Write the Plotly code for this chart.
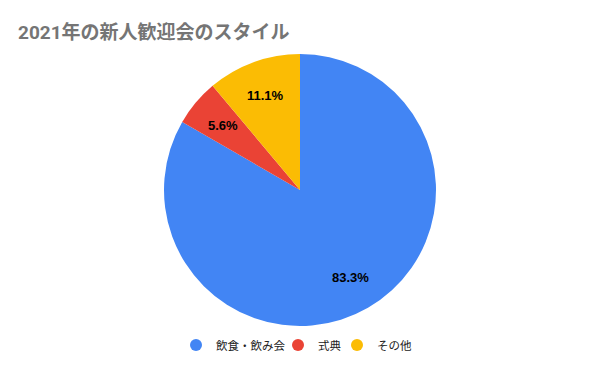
import math
import plotly.graph_objects as go

categories = ["飲食・飲み会", "式典", "その他"]
values = [15, 1, 2]
colors = ["#4285F4", "#EA4335", "#FBBC04"]

W, H = 600, 371
CX, CY, R = 300, 190, 136
LEGEND_X = [196, 298, 357]   # symbol centres, px
LEGEND_Y = 345

fig = go.Figure()
fig.add_trace(go.Pie(
    labels=categories, values=values, sort=False, direction="clockwise", rotation=0,
    marker=dict(colors=colors, line=dict(width=0)),
    textinfo="none",
    showlegend=False, hoverinfo="label+percent",
    domain=dict(x=[(CX-R)/W, (CX+R)/W], y=[1-(CY+R)/H, 1-(CY-R)/H]),
))
legend_names = ["legend", "legend2", "legend3"]
for c, col, ln in zip(categories, colors, legend_names):
    fig.add_trace(go.Scatter(x=[None], y=[None], mode="markers", name=c, legend=ln,
                             marker=dict(symbol="circle", size=12, color=col)))

total = sum(values)
cum = 0
for v in values:
    mid = (cum + v / 2) / total * 2 * math.pi
    cum += v
    px = CX + 0.74 * R * math.sin(mid)
    py = CY - 0.74 * R * math.cos(mid)
    fig.add_annotation(x=px / W, y=1 - py / H, xref="paper", yref="paper",
                       xanchor="center", yanchor="middle",
                       text=f"<b>{v / total * 100:.1f}%</b>", showarrow=False,
                       font=dict(family="Arial, Liberation Sans, sans-serif", size=13, color="#000000"))

legend_font = dict(family="Roboto, Noto Sans CJK JP, sans-serif", size=11.5, color="#222222")
legend_cfg = {}
for ln, lx in zip(legend_names, LEGEND_X):
    legend_cfg[ln] = dict(orientation="h", x=(lx - 20) / W, xanchor="left",
                          y=1 - LEGEND_Y / H, yanchor="middle", font=legend_font,
                          itemwidth=30, bgcolor="rgba(0,0,0,0)")

fig.update_layout(
    width=W, height=H, margin=dict(l=0, r=0, t=0, b=0, autoexpand=False),
    paper_bgcolor="white", plot_bgcolor="white",
    xaxis=dict(visible=False), yaxis=dict(visible=False),
    title=dict(text="<b>2021年の新人歓迎会のスタイル</b>", x=18/W, xanchor="left",
               y=1-32/H, yanchor="middle",
               font=dict(family="Roboto, Noto Sans CJK JP, sans-serif", size=19, color="#757575")),
    **legend_cfg,
)
fig.write_html("out.html")
